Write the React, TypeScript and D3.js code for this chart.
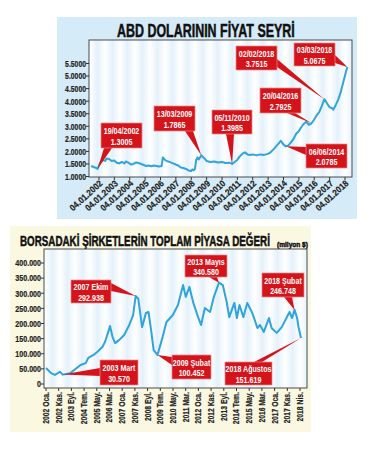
import React, { useEffect, useRef } from 'react';
import * as d3 from 'd3';

const W = 386;
const H = 455;
const FONT = "'Liberation Sans', Arial, sans-serif";
const RED = '#d4131b';
const BLUE = '#2fa4dd';

// ---- ABD dolarının fiyat seyri (TL) ----
const usdDates = [
  '2001-07', '2001-09', '2001-11', '2001-12',
  '2002-02', '2002-04', '2002-06', '2002-07', '2002-09', '2002-11',
  '2003-01', '2003-03', '2003-05', '2003-07', '2003-09', '2003-10', '2003-12',
  '2004-02', '2004-04', '2004-06', '2004-08', '2004-10', '2004-12',
  '2005-02', '2005-04', '2005-06', '2005-08', '2005-10', '2005-12',
  '2006-02', '2006-03', '2006-05', '2006-07', '2006-09', '2006-11',
  '2007-01', '2007-03', '2007-05', '2007-07', '2007-09', '2007-11',
  '2008-01', '2008-02', '2008-03', '2008-04', '2008-05', '2008-06', '2008-07', '2008-09', '2008-11',
  '2009-01', '2009-04', '2009-07', '2009-10',
  '2010-01', '2010-04', '2010-07', '2010-09', '2010-11',
  '2011-01', '2011-03', '2011-05', '2011-07', '2011-09', '2011-11',
  '2012-01', '2012-04', '2012-07', '2012-10',
  '2013-01', '2013-03', '2013-06', '2013-09', '2013-11',
  '2014-01', '2014-03', '2014-05', '2014-07', '2014-09', '2014-11',
  '2015-01', '2015-03', '2015-05', '2015-07', '2015-09', '2015-11',
  '2016-01', '2016-03', '2016-05', '2016-07', '2016-09', '2016-11',
  '2017-01', '2017-03', '2017-04', '2017-06', '2017-08', '2017-10', '2017-12',
  '2018-02', '2018-03',
];
const usdValues = [
  1.42, 1.38, 1.34, 1.30,
  1.55, 1.66, 1.62, 1.72, 1.70, 1.62,
  1.64, 1.55, 1.52, 1.58, 1.52, 1.60, 1.55,
  1.48, 1.50, 1.56, 1.54, 1.50, 1.46,
  1.42, 1.44, 1.41, 1.44, 1.42, 1.40,
  1.42, 1.76, 1.64, 1.60, 1.56, 1.52,
  1.48, 1.44, 1.36, 1.34, 1.30, 1.24,
  1.22, 1.28, 1.25, 1.30, 1.66, 1.76, 1.68, 1.84, 1.74,
  1.62, 1.58, 1.60, 1.56,
  1.58, 1.54, 1.55, 1.50, 1.58,
  1.66, 1.80, 1.90, 1.96, 1.88, 1.86,
  1.88, 1.84, 1.88, 1.86,
  1.90, 1.96, 2.12, 2.30, 2.42,
  2.28, 2.20, 2.24, 2.36, 2.50, 2.70,
  2.80, 2.96, 3.10, 3.18, 3.06, 3.12,
  3.26, 3.44, 3.56, 3.80, 4.08, 3.92,
  3.76, 3.72, 3.66, 3.86, 4.08, 4.40, 4.80,
  5.20, 5.36,
];
const usdTickYears = ['2002', '2003', '2004', '2005', '2006', '2007', '2008', '2009', '2010',
  '2011', '2012', '2013', '2014', '2015', '2016', '2017', '2018'];
const usdYTicks = [1.0, 1.5, 2.0, 2.5, 3.0, 3.5, 4.0, 4.5, 5.0, 5.5];
// etiketler: gösterdiği nokta + iki satır metin
const usdNoteDates = ['2001-12', '2008-09', '2010-09', '2016-09', '2018-03', '2015-11', '2014-03'];
const usdNoteTitles = ['19/04/2002', '13/03/2009', '05/11/2010', '02/02/2018', '03/03/2018', '20/04/2016', '06/06/2014'];
const usdNoteValues = ['1.3005', '1.7865', '1.3985', '3.7515', '5.0675', '2.7925', '2.0785'];

// ---- Borsadaki şirketlerin toplam piyasa değeri (milyon $) ----
const capDates = [
  '2002-01', '2002-05', '2002-08', '2002-12',
  '2003-02', '2003-05', '2003-08',
  '2004-01', '2004-04', '2004-08', '2004-10',
  '2005-02', '2005-05', '2005-09', '2005-11',
  '2006-02', '2006-03', '2006-05', '2006-07', '2006-10',
  '2007-02', '2007-06', '2007-09', '2007-11',
  '2008-01', '2008-04', '2008-07', '2008-09', '2008-11',
  '2009-01', '2009-04', '2009-08', '2009-11',
  '2010-04', '2010-08', '2010-12',
  '2011-02', '2011-05', '2011-08', '2011-12',
  '2012-02', '2012-05', '2012-09', '2012-12',
  '2013-04', '2013-07', '2013-10', '2013-12',
  '2014-04', '2014-06', '2014-08', '2014-11',
  '2015-02', '2015-06', '2015-10', '2015-12',
  '2016-03', '2016-07', '2016-09',
  '2017-01', '2017-05', '2017-11',
  '2018-01', '2018-03', '2018-05', '2018-06', '2018-08',
];
const capValues = [
  53000, 36000, 30000, 40000,
  31000, 33000, 36000,
  53000, 63000, 69000, 86000,
  96000, 106000, 122000, 139000,
  178000, 192000, 155000, 135000, 145000,
  162000, 195000, 228000, 291000,
  282000, 188000, 235000, 238000, 178000,
  112000, 96000, 155000, 205000,
  228000, 261000, 327000,
  288000, 321000, 268000, 218000,
  195000, 251000, 238000, 288000,
  335000, 327000, 271000, 221000,
  268000, 218000, 261000, 221000,
  268000, 235000, 185000, 195000,
  172000, 218000, 185000,
  169000, 188000, 238000,
  218000, 245000, 218000, 190000, 152000,
];
const capTickLabels = ['2002 Oca.', '2002 Kas.', '2003 Eyl.', '2004 Tem.', '2005 May.', '2006 Mar.',
  '2007 Oca.', '2007 Kas.', '2008 Eyl.', '2009 Tem.', '2010 May.', '2011 Mar.', '2012 Oca.',
  '2012 Kas.', '2013 Eyl.', '2014 Tem.', '2015 May.', '2016 Mar.', '2017 Oca.', '2017 Kas.', '2018 Nis.'];
const capYTicks = [0, 50000, 100000, 150000, 200000, 250000, 300000, 350000, 400000];
const capNoteDates = ['2007-11', '2013-04', '2018-03', '2003-02', '2009-04', '2018-08'];
const capNoteTitles = ['2007 Ekim', '2013 Mayıs', '2018 Şubat', '2003 Mart', '2009 Şubat', '2018 Ağustos'];
const capNoteValues = ['292.938', '340.580', '246.748', '30.570', '100.452', '151.619'];

// kutu yerleşimi [x, y, w, h, okX, okY] (sadece yerleşim)
const usdNoteBoxes = [
  [101, 123, 41, 25, 7, 25],
  [154, 106, 41, 25, 35, 25],
  [212, 110, 40, 24, 18, 24],
  [236, 46, 41, 24, 41, 17],
  [294, 43, 41, 23, 41, 16],
  [260, 88, 41, 25, 31, 25],
  [306, 144, 41, 24, 0, 7],
];
const capNoteBoxes = [
  [71, 280, 40, 23, 40, 7],
  [185, 255, 42, 22, 28, 22],
  [262, 273, 42, 24, 26, 24],
  [100, 360, 38, 25, 0, 12],
  [172, 355, 39, 24, 0, 6],
  [225, 362, 47, 23, 33, 0],
];

const parseMonth = d3.timeParse('%Y-%m');
const parseDay = d3.timeParse('%Y-%m-%d');
const trFormat = d3.formatLocale({ decimal: ',', thousands: '.', grouping: [3], currency: ['', ''] }).format(',');

// bold text, squeezed horizontally
const label = (parent, x, y, s, size, opts: any = {}) => {
  const g = parent.append('g')
    .attr('transform', `translate(${x},${y}) rotate(${opts.rot || 0}) scale(${opts.sx || 1},1)`);
  const t = g.append('text')
    .attr('text-anchor', opts.anchor || 'middle')
    .attr('dy', opts.dy || 0)
    .attr('font-family', FONT)
    .attr('font-weight', 'bold')
    .attr('font-size', size)
    .attr('fill', opts.fill || '#222')
    .text(s);
  if (opts.stroke) t.attr('stroke', opts.fill || '#222').attr('stroke-width', opts.stroke);
  return t;
};

// squeeze a title into a given width
const fitted = (parent, x, y, s, size, width, anchor = 'start') => {
  const g = parent.append('g');
  const t = g.append('text')
    .attr('text-anchor', anchor)
    .attr('font-family', FONT)
    .attr('font-weight', 'bold')
    .attr('font-size', size)
    .attr('fill', '#111')
    .attr('stroke', '#111')
    .attr('stroke-width', 0.5)
    .text(s);
  const natural = (t.node() as SVGTextElement).getComputedTextLength() || width;
  g.attr('transform', `translate(${x},${y}) scale(${width / natural},1)`);
};

const drawNote = (g, box, tip, title, value) => {
  const [bx, by, bw, bh, ax, ay] = box;
  const px = bx + ax, py = by + ay;
  const horizontal = ay === 0 || ay === bh;
  const base = horizontal ? [[px - 4, py], [px + 4, py]] : [[px, py - 4], [px, py + 4]];
  g.append('polygon')
    .attr('points', [base[0], tip, base[1]].map(p => p.join(',')).join(' '))
    .attr('fill', RED);
  g.append('rect')
    .attr('x', bx).attr('y', by).attr('width', bw).attr('height', bh)
    .attr('fill', RED).attr('stroke', '#ee8a8a').attr('stroke-width', 0.7);
  label(g, bx + bw / 2, by + bh / 2 - 1.5, title, 9.5, { sx: 0.75, fill: '#fff' });
  label(g, bx + bw / 2, by + bh / 2 + 9, value, 9.5, { sx: 0.75, fill: '#fff' });
};

export default function App() {
  const ref = useRef<SVGSVGElement>(null);

  useEffect(() => {
    const svg = d3.select(ref.current);
    svg.selectAll('*').remove();

    // soluk dikey bantlar
    const defs = svg.append('defs');
    const grad = defs.append('linearGradient').attr('id', 'band').attr('x1', 0).attr('x2', 1).attr('y1', 0).attr('y2', 0);
    grad.append('stop').attr('offset', '0%').attr('stop-color', '#ffffff');
    grad.append('stop').attr('offset', '50%').attr('stop-color', '#e4f1fa');
    grad.append('stop').attr('offset', '100%').attr('stop-color', '#ffffff');
    const pat = defs.append('pattern').attr('id', 'stripes').attr('patternUnits', 'userSpaceOnUse')
      .attr('width', 15).attr('height', 10);
    pat.append('rect').attr('width', 15).attr('height', 10).attr('fill', 'url(#band)');

    // ================= üst grafik =================
    const top = { left: 89, right: 352, top: 40, bottom: 177 };
    svg.append('rect').attr('x', 57).attr('y', 17).attr('width', 300).attr('height', 202).attr('fill', '#d5ebf7');
    fitted(svg, 117, 37, 'ABD DOLARININ FİYAT SEYRİ', 19, 178);

    const usdData = usdDates.map((d, i) => ({ date: parseMonth(d), value: usdValues[i] }));
    const x1 = d3.scaleTime()
      .domain([parseDay('2002-01-04'), parseDay('2018-01-04')])
      .range([99, 345]);
    const y1 = d3.scaleLinear().domain([1.0, 5.5]).range([176.5, 63.5]);

    svg.append('rect').attr('x', top.left).attr('y', top.top)
      .attr('width', top.right - top.left).attr('height', top.bottom - top.top)
      .attr('fill', 'url(#stripes)');

    const line1 = d3.line<any>().x(d => x1(d.date)).y(d => y1(d.value));
    svg.append('path').datum(usdData).attr('d', line1)
      .attr('fill', 'none').attr('stroke', BLUE).attr('stroke-width', 2).attr('stroke-linejoin', 'round');

    svg.append('rect').attr('x', top.left).attr('y', top.top)
      .attr('width', top.right - top.left).attr('height', top.bottom - top.top)
      .attr('fill', 'none').attr('stroke', '#4a4a4a').attr('stroke-width', 1);

    usdYTicks.forEach(t => {
      svg.append('line').attr('x1', top.left - 3).attr('x2', top.left).attr('y1', y1(t)).attr('y2', y1(t))
        .attr('stroke', '#333');
      label(svg, top.left - 3, y1(t), d3.format('.4f')(t), 9.5, { anchor: 'end', sx: 0.72, dy: '0.35em', stroke: 0.2 });
    });
    usdTickYears.forEach(yr => {
      const xv = x1(parseDay(`${yr}-01-04`));
      svg.append('line').attr('x1', xv).attr('x2', xv).attr('y1', top.bottom).attr('y2', top.bottom + 3)
        .attr('stroke', '#333');
      label(svg, xv + 2, top.bottom + 5, `04.01.${yr}`, 9, { anchor: 'end', sx: 0.9, rot: -42, dy: '0.35em', stroke: 0.2 });
    });

    const notes1 = svg.append('g');
    usdNoteDates.forEach((d, i) => {
      const p = usdData[usdDates.indexOf(d)];
      drawNote(notes1, usdNoteBoxes[i], [x1(p.date), y1(p.value)], usdNoteTitles[i], usdNoteValues[i]);
    });

    // ================= alt grafik =================
    const bot = { left: 44, right: 307, top: 249, bottom: 388 };
    svg.append('rect').attr('x', 10).attr('y', 226).attr('width', 301).attr('height', 206).attr('fill', '#fbf8e2');
    fitted(svg, 20, 246, 'BORSADAKİ ŞİRKETLERİN TOPLAM PİYASA DEĞERİ', 14.5, 250);
    fitted(svg, 277, 247, '(milyon $)', 8, 31);

    const capData = capDates.map((d, i) => ({ date: parseMonth(d), value: capValues[i] }));
    const x2 = d3.scaleTime().domain([parseMonth('2002-01'), parseMonth('2018-08')]).range([46, 301]);
    const y2 = d3.scaleLinear().domain([0, 400000]).range([384, 263]);
    const xLab = d3.scalePoint().domain(capTickLabels).range([46, 300]);

    svg.append('rect').attr('x', bot.left).attr('y', bot.top)
      .attr('width', bot.right - bot.left).attr('height', bot.bottom - bot.top)
      .attr('fill', 'url(#stripes)');

    const line2 = d3.line<any>().x(d => x2(d.date)).y(d => y2(d.value));
    svg.append('path').datum(capData).attr('d', line2)
      .attr('fill', 'none').attr('stroke', BLUE).attr('stroke-width', 2).attr('stroke-linejoin', 'round');

    svg.append('rect').attr('x', bot.left).attr('y', bot.top)
      .attr('width', bot.right - bot.left).attr('height', bot.bottom - bot.top)
      .attr('fill', 'none').attr('stroke', '#4a4a4a').attr('stroke-width', 1);

    capYTicks.forEach(t => {
      svg.append('line').attr('x1', bot.left - 3).attr('x2', bot.left).attr('y1', y2(t)).attr('y2', y2(t))
        .attr('stroke', '#333');
      label(svg, bot.left - 3, y2(t), trFormat(t), 9.5, { anchor: 'end', sx: 0.75, dy: '0.35em', stroke: 0.2 });
    });
    capTickLabels.forEach(s => {
      const xv = xLab(s);
      svg.append('line').attr('x1', xv).attr('x2', xv).attr('y1', bot.bottom).attr('y2', bot.bottom + 3)
        .attr('stroke', '#333');
      label(svg, xv, bot.bottom + 4, s, 8.5, { anchor: 'end', sx: 0.8, rot: -90, dy: '0.35em', stroke: 0.2 });
    });

    const notes2 = svg.append('g');
    capNoteDates.forEach((d, i) => {
      const p = capData[capDates.indexOf(d)];
      drawNote(notes2, capNoteBoxes[i], [x2(p.date), y2(p.value)], capNoteTitles[i], capNoteValues[i]);
    });
  }, []);

  return (
    <svg ref={ref} width={W} height={H}
      style={{ position: 'absolute', left: 0, top: 0, background: '#fff', display: 'block' }} />
  );
}
